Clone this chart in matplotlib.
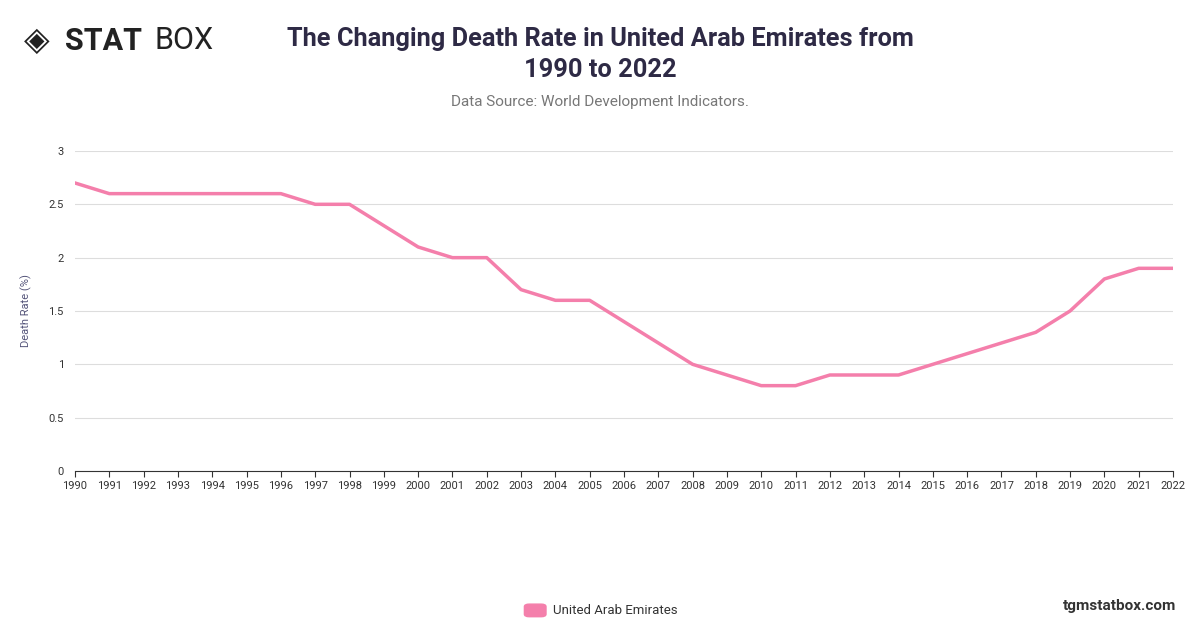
import matplotlib
matplotlib.use("Agg")
import matplotlib.pyplot as plt
from matplotlib.patches import FancyBboxPatch

years = list(range(1990, 2023))
rates = [2.7, 2.6, 2.6, 2.6, 2.6, 2.6, 2.6, 2.5, 2.5, 2.3, 2.1, 2.0, 2.0, 1.7, 1.6, 1.6,
         1.4, 1.2, 1.0, 0.9, 0.8, 0.8, 0.9, 0.9, 0.9, 1.0, 1.1, 1.2, 1.3, 1.5, 1.8, 1.9, 1.9]
yticks = [0, 0.5, 1, 1.5, 2, 2.5, 3]
ytick_labels = ["0", "0.5", "1", "1.5", "2", "2.5", "3"]

plt.rcParams['font.family'] = ['Roboto', 'DejaVu Sans']
fig = plt.figure(figsize=(12, 6.28), dpi=100)
ax = fig.add_axes([0.0625, 0.25, 0.915, 0.5096])
color = "#f47fab"
ax.plot(years, rates, color=color, lw=2.5, solid_joinstyle='round')
ax.set_xlim(1990, 2022)
ax.set_ylim(0, 3)
ax.set_xticks(years)
ax.set_xticklabels([str(y) for y in years], fontsize=8, color="#333333")
ax.set_yticks(yticks)
ax.set_yticklabels(ytick_labels, fontsize=8, color="#333333")
ax.grid(axis='y', color="#dddddd", lw=0.8)
for s in ['top', 'right', 'left']:
    ax.spines[s].set_visible(False)
ax.spines['bottom'].set_color("#333333")
ax.tick_params(axis='y', length=0, pad=8)
ax.tick_params(axis='x', length=4, color="#333333")
ax.set_ylabel("Death Rate (%)", fontsize=8, color="#55557a", labelpad=12)

fig.text(0.5, 0.913, "The Changing Death Rate in United Arab Emirates from\n1990 to 2022",
         ha='center', va='center', fontsize=18.3, fontweight='bold', color="#2e2a45", linespacing=1.35)
fig.text(0.5, 0.838, "Data Source: World Development Indicators.", ha='center', va='center',
         fontsize=11, color="#777777")
fig.text(0.054, 0.935, "STAT", ha='left', va='center', fontsize=22, fontweight='bold', color="#222222")
fig.text(0.129, 0.935, "BOX", ha='left', va='center', fontsize=22, color="#222222")
fig.text(0.020, 0.935, "◈", ha='left', va='center', fontsize=24, color="#222222", family=['DejaVu Sans'])
fig.text(0.98, 0.035, "tgmstatbox.com", ha='right', va='center', fontsize=11, fontweight='bold', color="#333333")
fig.patches.append(FancyBboxPatch((0.437, 0.018), 0.018, 0.02, boxstyle="round,pad=0,rounding_size=0.004",
                                  transform=fig.transFigure, color=color))
fig.text(0.461, 0.028, "United Arab Emirates", ha='left', va='center', fontsize=9.5, color="#333333")
fig.savefig("out.png", dpi=100)
